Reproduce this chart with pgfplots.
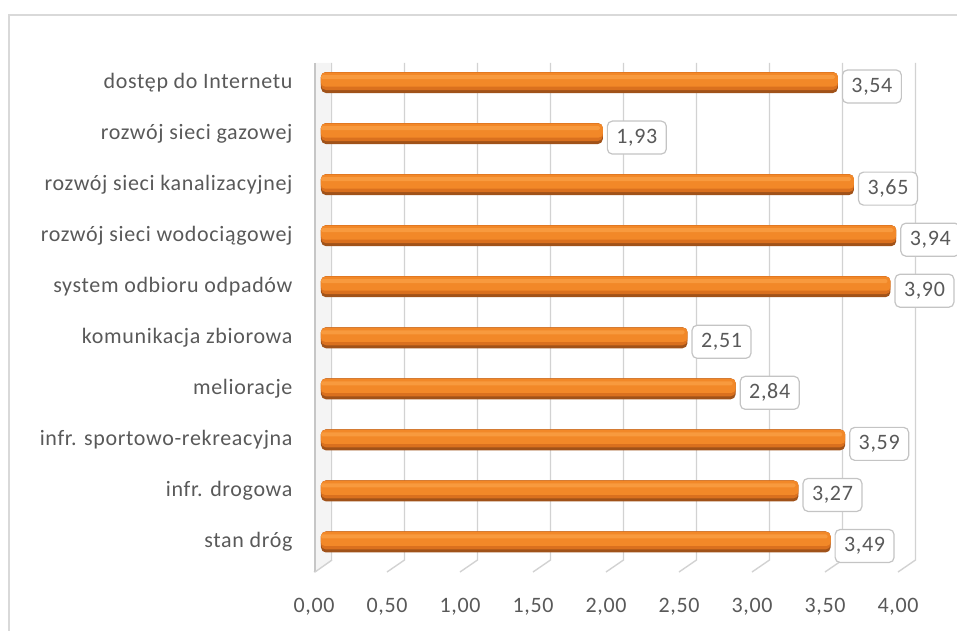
\documentclass[border=0pt]{standalone}
\usepackage{pgfplots}
\usepackage{pgfplotstable}
\pgfplotsset{compat=1.18}
\usepackage{fontspec}
\setmainfont[LetterSpace=3]{Carlito}
\definecolor{txt}{HTML}{595959}
\definecolor{gridc}{HTML}{D2D2D2}
\definecolor{framec}{HTML}{D9D9D9}
\definecolor{boxc}{HTML}{C4C4C4}
\definecolor{oA}{RGB}{160,82,25}
\definecolor{oB}{RGB}{218,112,30}
\definecolor{oC}{RGB}{242,136,40}
\definecolor{oD}{RGB}{248,154,62}
\pgfplotstableread{
y v
0 3.49
1 3.27
2 3.59
3 2.84
4 2.51
5 3.90
6 3.94
7 3.65
8 1.93
9 3.54
}\data
\begin{document}
\begin{tikzpicture}[x=1pt,y=1pt]
\useasboundingbox (-321,-62.5) rectangle (636,567.5);
\draw[framec, line width=2pt] (-312,-80) -- (-312,552.5) -- (650,552.5);
\begin{axis}[
  at={(0,0)}, anchor=south west,
  scale only axis, width=584pt, height=510.5pt,
  xbar, bar shift=0pt, bar width=21pt,
  xmin=0, xmax=4, ymin=-0.5, ymax=9.5,
  clip=false,
  axis line style={draw=none},
  major tick length=0pt,
  xtick={0,0.5,...,4},
  ytick={0,...,9},
  yticklabels={stan dróg, infr. drogowa, infr. sportowo-rekreacyjna, melioracje, komunikacja zbiorowa, system odbioru odpadów, rozwój sieci wodociągowej, rozwój sieci kanalizacyjnej, rozwój sieci gazowej, dostęp do Internetu},
  tick label style={text=txt, font=\fontsize{22}{22}\selectfont},
  xticklabel style={yshift=-27pt, xshift=-7pt},
  yticklabel style={xshift=-25pt},
  /pgf/number format/assume math mode=true,
  xticklabel={\pgfmathprintnumber[fixed, fixed zerofill, precision=2, use comma]{\tick}},
]
\pgfplotsinvokeforeach{0,0.5,1,1.5,2,2.5,3,3.5,4}{
  \draw[gridc, line width=1.4pt] ([xshift=10.5pt, yshift=-6pt]axis cs:#1,9.5) -- ([xshift=10.5pt, yshift=7.5pt]axis cs:#1,-0.5) -- ([xshift=-7pt, yshift=-4.5pt]axis cs:#1,-0.5);
}
\fill[gray!9] ([xshift=-6pt, yshift=-4.5pt]axis cs:0,-0.5) -- ([xshift=10pt, yshift=7.5pt]axis cs:0,-0.5) -- ([xshift=10pt, yshift=-6pt]axis cs:0,9.5) -- ([xshift=-6pt, yshift=-6pt]axis cs:0,9.5) -- cycle;
\draw[gridc!85!gray, line width=1.4pt] ([xshift=-6pt, yshift=-4.5pt]axis cs:0,-0.5) -- ([xshift=-6pt, yshift=-6pt]axis cs:0,9.5);
\draw[gridc, line width=1.4pt] ([xshift=-6pt, yshift=-4.5pt]axis cs:0,-0.5) -- ([xshift=11pt, yshift=7.5pt]axis cs:0,-0.5);
\addplot[draw=none, fill=oA, bar width=21pt, rounded corners=5pt] table[x=v, y=y] {\data};
\addplot[draw=none, fill=oB, bar width=18pt, bar shift=1.5pt, rounded corners=5pt] table[x=v, y=y] {\data};
\addplot[draw=none, fill=oC, bar width=14pt, bar shift=3pt, rounded corners=4pt] table[x=v, y=y] {\data};
\addplot[draw=none, fill=oD, bar width=4pt, bar shift=5.5pt, rounded corners=1.5pt] table[x expr=\thisrow{v}-0.02, y=y] {\data};
\addplot[draw=none, fill=none, forget plot,
  nodes near coords,
  point meta=explicit,
  nodes near coords style={anchor=west, xshift=4pt, yshift=-4pt, draw=boxc, line width=1.2pt, fill=white, rounded corners=5pt, text=txt, font=\fontsize{22}{22}\selectfont, minimum height=33pt, inner xsep=9pt,
  /pgf/number format/.cd, fixed, fixed zerofill, precision=2, use comma, assume math mode=true}
] table[x=v, y=y, meta=v] {\data};
\end{axis}
\end{tikzpicture}
\end{document}
